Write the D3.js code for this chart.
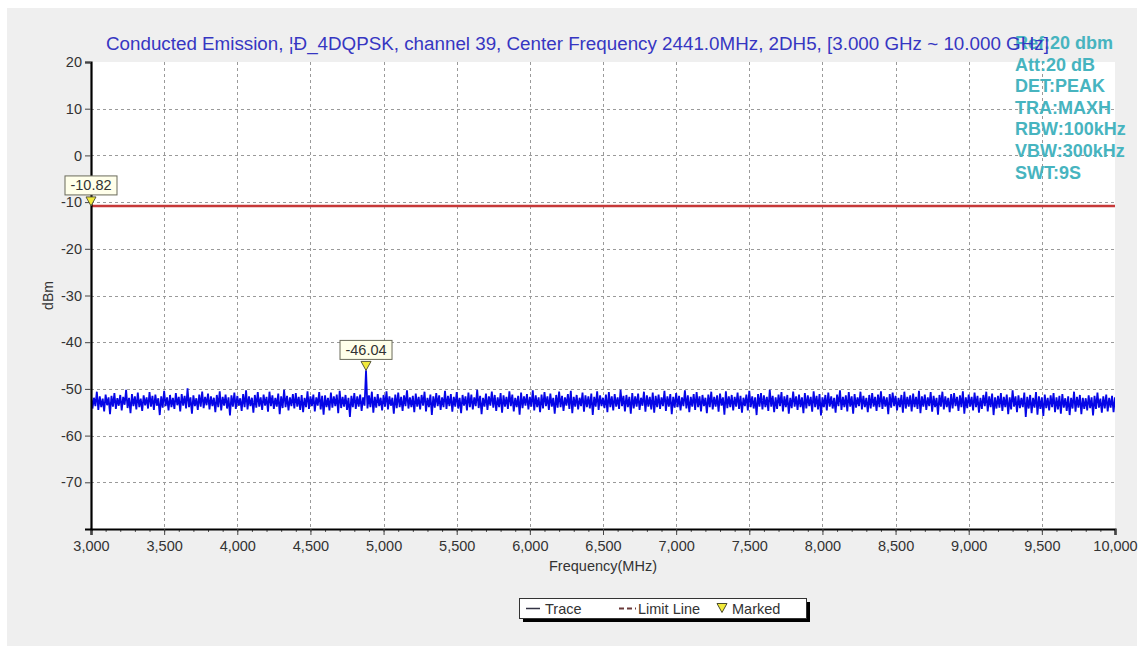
<!DOCTYPE html>
<html>
<head>
<meta charset="utf-8">
<script src="https://cdn.jsdelivr.net/npm/d3@7"></script>
<style>
  html, body { margin: 0; padding: 0; background: #ffffff; }
  svg { display: block; font-family: "Liberation Sans", Arial, sans-serif; }
</style>
</head>
<body>
<svg id="chart" width="1146" height="646"></svg>
<script>
// ---- chart data ----
const titleText = "Conducted Emission, ¦Ð_4DQPSK, channel 39, Center Frequency 2441.0MHz, 2DH5, [3.000 GHz ~ 10.000 GHz]";
const settingLines = ["Ref:20 dbm", "Att:20 dB", "DET:PEAK", "TRA:MAXH", "RBW:100kHz", "VBW:300kHz", "SWT:9S"];
const freqDomain = [3000, 10000];          // MHz
const levelDomain = [-80, 20];             // dBm
const freqTicks = [3000, 3500, 4000, 4500, 5000, 5500, 6000, 6500, 7000, 7500, 8000, 8500, 9000, 9500, 10000];
const levelTicks = [20, 10, 0, -10, -20, -30, -40, -50, -60, -70];
const traceStart = 3000;                   // MHz, first sweep point
const traceStep = 10;                      // MHz between sweep points
const traceLevels = [
  -51.4,-54.2,-51.9,-53.7,-50.6,-54.5,-51.6,-53.9,-52.1,-54.8,-51.2,-53.5,-51.8,-55.4,-51.5,-53.8,-50.9,-54.3,-52.0,-53.6,
  -51.3,-54.6,-51.7,-53.4,-50.2,-54.1,-51.9,-55.2,-51.1,-53.7,-51.6,-54.4,-50.8,-53.9,-52.1,-54.7,-51.4,-53.5,-51.8,-54.2,
  -50.7,-53.8,-51.5,-54.5,-51.2,-53.6,-52.0,-55.6,-51.6,-54.0,-50.4,-53.7,-51.8,-54.6,-51.3,-53.9,-51.9,-54.3,-50.9,-53.5,
  -51.7,-54.8,-51.1,-53.6,-51.5,-54.2,-49.9,-53.9,-51.8,-55.3,-51.4,-53.7,-52.0,-54.5,-51.2,-53.8,-50.6,-54.1,-51.7,-53.5,
  -51.0,-54.4,-51.6,-53.7,-51.9,-55.0,-51.3,-53.9,-50.5,-54.6,-51.7,-53.6,-51.2,-54.2,-51.8,-55.7,-51.4,-53.8,-50.8,-54.3,
  -51.5,-53.6,-52.0,-54.7,-51.1,-53.9,-50.3,-54.4,-51.6,-53.7,-51.9,-55.1,-51.3,-54.0,-50.7,-53.8,-51.8,-54.5,-51.2,-53.6,
  -51.7,-54.9,-50.6,-53.7,-51.4,-54.3,-51.9,-53.8,-51.0,-55.4,-51.6,-54.1,-50.2,-53.9,-51.5,-54.6,-51.8,-53.7,-51.1,-54.2,
  -50.9,-53.8,-51.7,-54.5,-51.3,-55.0,-51.9,-53.9,-50.5,-54.3,-51.6,-53.7,-51.2,-54.8,-51.8,-53.6,-50.7,-54.4,-51.5,-55.5,
  -51.4,-53.9,-51.9,-54.6,-50.8,-54.0,-51.6,-53.7,-51.2,-55.2,-50.4,-54.1,-51.7,-53.8,-51.3,-54.5,-51.9,-56.0,-51.5,-53.9,
  -50.9,-54.3,-51.6,-53.8,-51.2,-54.7,-51.8,-53.6,-46.04,-54.2,-51.4,-53.9,-50.6,-55.1,-51.7,-54.0,-51.1,-53.7,-51.9,-54.6,
  -51.3,-53.8,-50.5,-54.4,-51.6,-53.6,-51.9,-55.3,-51.2,-54.1,-50.8,-53.9,-51.7,-54.7,-51.4,-53.7,-50.3,-54.2,-51.8,-53.9,
  -51.5,-55.0,-51.0,-53.8,-51.7,-54.4,-51.3,-53.6,-50.6,-54.8,-51.9,-53.9,-51.2,-55.6,-51.6,-54.0,-50.9,-53.7,-51.4,-54.5,
  -51.8,-53.9,-50.4,-54.3,-51.5,-53.7,-51.1,-54.9,-51.7,-53.8,-50.7,-54.2,-51.9,-55.2,-51.3,-53.6,-51.6,-54.6,-50.8,-53.9,
  -51.2,-54.4,-51.8,-53.7,-50.2,-54.1,-51.5,-55.4,-51.9,-53.8,-51.0,-54.5,-51.6,-53.6,-50.6,-54.0,-51.3,-54.7,-51.8,-53.9,
  -50.9,-55.1,-51.4,-53.8,-51.7,-54.3,-50.5,-53.7,-51.2,-54.8,-51.9,-53.9,-51.5,-55.5,-50.8,-54.1,-51.6,-53.6,-51.1,-54.4,
  -51.7,-53.8,-50.3,-54.6,-51.4,-53.9,-51.8,-55.0,-51.2,-54.2,-50.7,-53.7,-51.6,-54.5,-51.0,-53.8,-51.9,-55.3,-51.3,-54.0,
  -50.6,-53.9,-51.5,-54.7,-51.8,-53.6,-51.1,-54.3,-50.4,-55.2,-51.7,-53.8,-51.3,-54.4,-51.9,-53.7,-50.8,-54.9,-51.4,-53.9,
  -51.6,-54.2,-51.0,-55.6,-51.7,-53.8,-50.5,-54.5,-51.4,-53.7,-51.9,-54.1,-51.2,-55.0,-50.7,-53.9,-51.6,-54.6,-51.1,-53.8,
  -51.8,-54.3,-50.2,-53.7,-51.5,-54.8,-51.3,-53.9,-51.7,-55.3,-50.9,-54.2,-51.6,-53.8,-51.0,-54.5,-51.9,-53.6,-50.6,-54.9,
  -51.4,-53.8,-51.7,-54.4,-50.8,-55.1,-51.5,-53.9,-51.2,-54.3,-51.8,-53.7,-50.4,-54.7,-51.6,-53.8,-51.1,-55.4,-51.7,-54.0,
  -50.9,-53.9,-51.5,-54.6,-51.8,-53.7,-50.3,-54.2,-51.4,-55.0,-51.7,-53.8,-51.1,-54.5,-50.7,-53.9,-51.6,-54.8,-51.3,-53.7,
  -51.9,-55.2,-51.2,-53.9,-50.6,-54.4,-51.7,-53.8,-51.4,-54.9,-51.0,-53.6,-51.8,-55.5,-50.5,-54.1,-51.6,-53.9,-51.3,-54.6,
  -51.7,-53.8,-50.8,-54.3,-51.5,-55.1,-51.9,-53.7,-51.2,-54.6,-50.4,-53.9,-51.6,-54.2,-51.8,-55.6,-51.1,-53.8,-50.9,-54.4,
  -51.4,-53.9,-51.7,-54.7,-50.2,-53.8,-51.5,-55.0,-51.8,-54.3,-51.2,-53.7,-50.7,-54.8,-51.6,-53.9,-51.3,-55.3,-51.9,-54.1,
  -50.6,-53.8,-51.6,-54.5,-51.2,-53.9,-51.8,-55.2,-50.9,-54.2,-51.4,-53.7,-51.7,-54.9,-50.5,-53.9,-51.5,-54.4,-51.1,-55.7,
  -51.8,-53.9,-51.3,-54.6,-50.8,-53.8,-51.6,-54.2,-51.9,-55.1,-51.2,-53.7,-50.3,-54.5,-51.7,-53.9,-51.4,-54.8,-50.7,-53.8,
  -51.6,-55.3,-51.1,-54.0,-51.8,-53.7,-50.6,-54.4,-51.5,-53.9,-51.9,-55.0,-51.3,-54.2,-50.9,-53.8,-51.7,-54.7,-51.2,-53.9,
  -50.5,-54.3,-51.6,-53.8,-51.8,-55.4,-51.1,-54.0,-50.8,-53.7,-51.5,-54.6,-51.9,-53.9,-51.3,-55.1,-50.6,-54.2,-51.7,-53.8,
  -51.4,-54.8,-51.0,-53.9,-51.7,-54.3,-50.4,-55.2,-51.6,-53.8,-51.2,-54.5,-51.8,-53.7,-50.7,-54.9,-51.5,-53.9,-51.9,-55.5,
  -51.3,-53.8,-50.6,-54.4,-51.6,-53.9,-51.9,-55.0,-51.1,-54.2,-50.9,-53.7,-51.7,-54.7,-51.4,-53.9,-50.5,-55.3,-51.8,-54.1,
  -51.2,-53.8,-51.7,-54.6,-50.8,-53.9,-51.5,-55.1,-51.9,-54.3,-51.3,-53.7,-50.6,-54.8,-51.6,-53.9,-51.0,-55.6,-51.8,-54.2,
  -51.5,-54.0,-50.9,-54.7,-51.7,-53.9,-51.2,-55.4,-51.8,-54.4,-50.3,-53.8,-51.6,-55.0,-51.4,-54.1,-51.9,-53.9,-50.8,-56.0,
  -51.7,-54.2,-51.3,-55.2,-51.9,-54.0,-50.7,-55.5,-51.6,-54.3,-51.8,-55.8,-51.2,-54.1,-51.9,-54.6,-51.4,-53.9,-50.9,-55.0,
  -51.8,-54.4,-51.5,-55.3,-51.1,-54.0,-52.0,-54.7,-51.6,-55.6,-51.9,-54.2,-50.6,-54.9,-51.7,-54.0,-51.3,-55.4,-51.9,-54.3,
  -52.0,-54.6,-51.4,-54.1,-51.8,-55.7,-51.5,-54.3,-50.8,-54.0,-52.1,-55.1,-51.6,-54.2,-51.2,-54.8,-51.9,-54.0,-51.5,-55.0,
  -51.8
];
const limitLevel = -10.82;                 // dBm
const markers = [
  { freq: 3000, level: -10.82 },
  { freq: 4880, level: -46.04 }
];
const legendItems = ["Trace", "Limit Line", "Marked"];

// ---- layout ----
const svg = d3.select("#chart");
const plot = { left: 91, right: 1115, top: 62, bottom: 529 };
const fontFamily = "'Liberation Sans', Arial, sans-serif";

const x = d3.scaleLinear().domain(freqDomain).range([plot.left, plot.right]);
const y = d3.scaleLinear().domain(levelDomain).range([plot.bottom, plot.top]);

// outer grey panel and white plotting area
svg.append("rect").attr("x", 7).attr("y", 8).attr("width", 1130).attr("height", 638).attr("fill", "#efefef");
svg.append("rect")
  .attr("x", plot.left).attr("y", plot.top)
  .attr("width", plot.right - plot.left).attr("height", plot.bottom - plot.top)
  .attr("fill", "#ffffff");

// dashed grid
const grid = svg.append("g").attr("stroke", "#9a9a9a").attr("stroke-width", 1).attr("stroke-dasharray", "3,3");
grid.selectAll("line.v").data(freqTicks.filter(f => f > freqDomain[0] && f < freqDomain[1]))
  .join("line").attr("class", "v")
  .attr("x1", d => Math.round(x(d)) + 0.5).attr("x2", d => Math.round(x(d)) + 0.5)
  .attr("y1", plot.top).attr("y2", plot.bottom);
grid.selectAll("line.h").data(levelTicks.filter(v => v > levelDomain[0] && v < levelDomain[1]))
  .join("line").attr("class", "h")
  .attr("x1", plot.left).attr("x2", plot.right)
  .attr("y1", d => Math.round(y(d)) + 0.5).attr("y2", d => Math.round(y(d)) + 0.5);

// clip for data marks
svg.append("clipPath").attr("id", "plotClip").append("rect")
  .attr("x", plot.left).attr("y", plot.top)
  .attr("width", plot.right - plot.left).attr("height", plot.bottom - plot.top);

// limit line
svg.append("line")
  .attr("x1", x(freqDomain[0])).attr("x2", x(freqDomain[1]))
  .attr("y1", y(limitLevel)).attr("y2", y(limitLevel))
  .attr("stroke", "#c63838").attr("stroke-width", 2.6);

// measured trace
const traceLine = d3.line()
  .x((d, i) => x(traceStart + i * traceStep))
  .y(d => y(d));
svg.append("path")
  .datum(traceLevels)
  .attr("clip-path", "url(#plotClip)")
  .attr("d", traceLine)
  .attr("fill", "none")
  .attr("stroke", "#0505e6")
  .attr("stroke-width", 1.8)
  .attr("stroke-linejoin", "bevel");

// axes
const tickFont = "14.5px";
const plainNumber = d => String(d);
const xAxisMinor = d3.axisBottom(x).tickValues(d3.range(freqDomain[0], freqDomain[1] + 1, 100)).tickSize(3).tickFormat("");
svg.append("g").attr("transform", `translate(0,${plot.bottom})`).call(xAxisMinor)
  .call(g => g.select(".domain").remove())
  .call(g => g.selectAll(".tick line").attr("stroke", "#555"));

const xAxis = d3.axisBottom(x).tickValues(freqTicks).tickSize(6).tickPadding(6).tickFormat(d3.format(","));
svg.append("g").attr("transform", `translate(0,${plot.bottom})`).call(xAxis)
  .call(g => g.select(".domain").attr("stroke", "#000").attr("stroke-width", 2.2))
  .call(g => g.selectAll(".tick line").attr("stroke", "#444"))
  .call(g => g.selectAll(".tick text").attr("fill", "#333").style("font-size", tickFont)
    .style("font-family", fontFamily));

const yAxis = d3.axisLeft(y).tickValues(levelTicks).tickSize(6).tickPadding(3).tickFormat(plainNumber);
svg.append("g").attr("transform", `translate(${plot.left},0)`).call(yAxis)
  .call(g => g.select(".domain").attr("stroke", "#000").attr("stroke-width", 2.2))
  .call(g => g.selectAll(".tick line").attr("stroke", "#444"))
  .call(g => g.selectAll(".tick text").attr("fill", "#333").style("font-size", tickFont)
    .style("font-family", fontFamily));

// axis titles
svg.append("text")
  .attr("x", (plot.left + plot.right) / 2).attr("y", 571)
  .attr("text-anchor", "middle").attr("fill", "#333").style("font-size", "14.5px")
  .text("Frequency(MHz)");
svg.append("text")
  .attr("transform", `translate(53,${y(-30)}) rotate(-90)`)
  .attr("text-anchor", "middle").attr("fill", "#333").style("font-size", "14px")
  .text("dBm");

// markers with value tags
const markerG = svg.append("g");
markers.forEach(m => {
  const mx = x(m.freq), my = y(m.level);
  const label = m.level.toFixed(2);
  const boxW = 52, boxH = 19;
  markerG.append("path")
    .attr("d", `M${mx - 5},${my - 9}L${mx + 5},${my - 9}L${mx},${my}Z`)
    .attr("fill", "#f2ea3a").attr("stroke", "#5a5a3a").attr("stroke-width", 1);
  markerG.append("rect")
    .attr("x", mx - boxW / 2).attr("y", my - 11 - boxH)
    .attr("width", boxW).attr("height", boxH)
    .attr("fill", "#ffffea").attr("stroke", "#6a6a5a").attr("stroke-width", 1);
  markerG.append("text")
    .attr("x", mx).attr("y", my - 11 - boxH / 2 + 5)
    .attr("text-anchor", "middle").attr("fill", "#333").style("font-size", "14.5px")
    .text(label);
});

// analyser settings (top right)
svg.append("g").selectAll("text").data(settingLines).join("text")
  .attr("x", 1015).attr("y", (d, i) => 49 + i * 21.6)
  .attr("fill", "#47b4bf").style("font-size", "18px").style("font-weight", "bold")
  .text(d => d);

// title
svg.append("text")
  .attr("x", 106).attr("y", 50)
  .attr("fill", "#3636c2").style("font-size", "18.8px")
  .text(titleText);

// legend
const lg = svg.append("g");
lg.append("rect").attr("x", 523).attr("y", 602).attr("width", 287).attr("height", 20).attr("fill", "#000");
lg.append("rect").attr("x", 519.5).attr("y", 598.5).attr("width", 287).attr("height", 20)
  .attr("fill", "#fff").attr("stroke", "#333").attr("stroke-width", 1);
lg.append("line").attr("x1", 526).attr("x2", 540).attr("y1", 608.5).attr("y2", 608.5)
  .attr("stroke", "#333344").attr("stroke-width", 1.5);
lg.append("line").attr("x1", 619).attr("x2", 636).attr("y1", 608.5).attr("y2", 608.5)
  .attr("stroke", "#6a3a3a").attr("stroke-width", 2).attr("stroke-dasharray", "5,3");
lg.append("path").attr("d", "M717,603.5L727,603.5L722,612.5Z")
  .attr("fill", "#f2ea3a").attr("stroke", "#4a4a2a").attr("stroke-width", 1);
const legendX = [545, 638, 732];
lg.selectAll("text").data(legendItems).join("text")
  .attr("x", (d, i) => legendX[i]).attr("y", 613.5)
  .attr("fill", "#333").style("font-size", "14.5px")
  .text(d => d);
</script>
</body>
</html>
